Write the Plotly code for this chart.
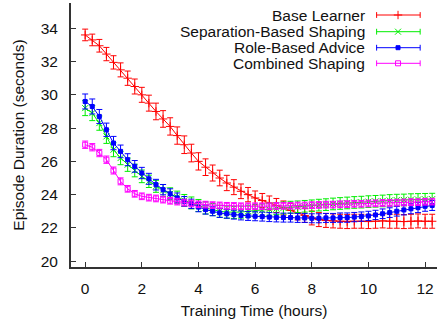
import numpy as np
import plotly.graph_objects as go

# ---- data ----
time_step = 0.25
hours = list(np.round(np.arange(0, 12.26, time_step), 2))  # 0 .. 12.25 (50 points)

base_learner = [33.6, 33.3, 32.95, 32.45, 31.95, 31.5, 31.0, 30.5, 30.0, 29.5,
                29.0, 28.55, 28.1, 27.55, 27.0, 26.5, 26.0, 25.65, 25.3, 25.0,
                24.7, 24.45, 24.2, 24.0, 23.8, 23.65, 23.5, 23.35, 23.2, 23.05,
                22.9, 22.75, 22.6, 22.5, 22.45, 22.42, 22.4, 22.38, 22.4, 22.4,
                22.38, 22.4, 22.42, 22.4, 22.4, 22.38, 22.4, 22.42, 22.4, 22.4]
base_err = [0.35, 0.35, 0.38, 0.4, 0.4, 0.42, 0.43, 0.45, 0.45, 0.48,
            0.5, 0.5, 0.52, 0.52, 0.53, 0.53, 0.52, 0.5, 0.48, 0.47,
            0.46, 0.45, 0.44, 0.43, 0.42, 0.42, 0.42, 0.42, 0.42, 0.42,
            0.42, 0.42, 0.42, 0.42, 0.42, 0.42, 0.42, 0.42, 0.42, 0.42,
            0.42, 0.42, 0.42, 0.42, 0.42, 0.42, 0.42, 0.42, 0.42, 0.42]

separation = [29.2, 28.9, 28.3, 27.5, 26.7, 26.2, 25.8, 25.45, 25.1, 24.8,
              24.5, 24.25, 24.05, 23.85, 23.65, 23.5, 23.35, 23.2, 23.1, 23.0,
              22.95, 22.93, 22.95, 23.0, 23.05, 23.08, 23.12, 23.16, 23.2, 23.24,
              23.27, 23.3, 23.33, 23.37, 23.4, 23.44, 23.47, 23.5, 23.53, 23.55,
              23.58, 23.6, 23.62, 23.65, 23.67, 23.68, 23.7, 23.71, 23.72, 23.73]
separation_err = [0.45, 0.45, 0.43, 0.42, 0.42, 0.4, 0.4, 0.38, 0.38, 0.37,
                  0.36, 0.36, 0.36, 0.36, 0.36, 0.36, 0.36, 0.36, 0.36, 0.36,
                  0.36, 0.36, 0.36, 0.36, 0.36, 0.36, 0.36, 0.36, 0.36, 0.36,
                  0.35, 0.35, 0.35, 0.35, 0.35, 0.35, 0.35, 0.35, 0.35, 0.35,
                  0.35, 0.35, 0.35, 0.35, 0.35, 0.35, 0.35, 0.35, 0.35, 0.35]

role_based = [29.6, 29.3, 28.7, 27.9, 27.1, 26.6, 26.1, 25.7, 25.3, 24.95,
              24.6, 24.3, 24.05, 23.8, 23.6, 23.45, 23.25, 23.1, 23.0, 22.9,
              22.85, 22.8, 22.75, 22.72, 22.7, 22.68, 22.65, 22.63, 22.62, 22.62,
              22.6, 22.6, 22.58, 22.58, 22.6, 22.6, 22.62, 22.62, 22.65, 22.68,
              22.72, 22.78, 22.85, 22.92, 23.0, 23.08, 23.15, 23.22, 23.3, 23.35]
role_err = [0.45, 0.45, 0.42, 0.4, 0.4, 0.38, 0.36, 0.35, 0.34, 0.33,
            0.32, 0.31, 0.3, 0.3, 0.29, 0.28, 0.28, 0.27, 0.27, 0.27,
            0.27, 0.27, 0.27, 0.27, 0.27, 0.27, 0.27, 0.27, 0.27, 0.27,
            0.27, 0.27, 0.27, 0.27, 0.27, 0.27, 0.28, 0.28, 0.28, 0.28,
            0.28, 0.28, 0.29, 0.29, 0.29, 0.3, 0.3, 0.3, 0.3, 0.3]

combined = [27.0, 26.85, 26.5, 26.1, 25.45, 24.8, 24.35, 24.05, 23.9, 23.82,
            23.77, 23.7, 23.63, 23.58, 23.52, 23.47, 23.42, 23.4, 23.37, 23.35,
            23.33, 23.32, 23.3, 23.3, 23.3, 23.3, 23.3, 23.32, 23.33, 23.33,
            23.35, 23.35, 23.37, 23.38, 23.4, 23.4, 23.42, 23.43, 23.45, 23.45,
            23.47, 23.48, 23.5, 23.5, 23.52, 23.53, 23.55, 23.55, 23.57, 23.58]
combined_err = [0.22, 0.22, 0.22, 0.22, 0.21, 0.21, 0.2, 0.2, 0.2, 0.2,
                0.2, 0.2, 0.2, 0.2, 0.2, 0.2, 0.2, 0.2, 0.2, 0.2,
                0.2, 0.2, 0.2, 0.2, 0.2, 0.2, 0.2, 0.2, 0.2, 0.2,
                0.2, 0.2, 0.2, 0.2, 0.2, 0.2, 0.2, 0.2, 0.2, 0.2,
                0.2, 0.2, 0.2, 0.2, 0.2, 0.2, 0.2, 0.2, 0.2, 0.2]

series_names = ["Base Learner", "Separation-Based Shaping", "Role-Based Advice", "Combined Shaping"]
series_values = [base_learner, separation, role_based, combined]
series_errors = [base_err, separation_err, role_err, combined_err]
colors = ["#ff0000", "#00ee00", "#0000ff", "#ff00ff"]
symbols = ["cross-thin", "x-thin", "square", "square-open"]
sizes = [6, 6, 4, 5]

x_ticks = [0, 2, 4, 6, 8, 10, 12]
y_ticks = [20, 22, 24, 26, 28, 30, 32, 34]

FONT = "Liberation Sans, Arial, Helvetica, sans-serif"

fig = go.Figure()
for name, vals, errs, col, sym, sz in zip(series_names, series_values, series_errors, colors, symbols, sizes):
    fig.add_trace(go.Scatter(
        x=hours, y=vals, name=name, mode="lines+markers",
        line=dict(color=col, width=1),
        marker=dict(symbol=sym, size=sz, color=col, line=dict(color=col, width=1)),
        error_y=dict(type="data", array=errs, visible=True, color=col, thickness=1, width=3),
        showlegend=False,
    ))

# ---- manual gnuplot-style key (text right, sample on the right) ----
key_rows = [0.9545, 0.8913, 0.8307, 0.7716]
key_text_x = 0.809
key_x0, key_x1, key_xm = 0.835, 0.954, 0.8935
shapes = []
annotations = []
for i, (name, col, sym, sz) in enumerate(zip(series_names, colors, symbols, sizes)):
    yy = key_rows[i]
    annotations.append(dict(x=key_text_x, y=yy, xref="paper", yref="paper", text=name,
                            showarrow=False, xanchor="right", yanchor="middle",
                            font=dict(family=FONT, size=15.5, color="#111")))
    shapes.append(dict(type="line", xref="paper", yref="paper", x0=key_x0, x1=key_x1, y0=yy, y1=yy,
                       line=dict(color=col, width=1)))
    for xe in (key_x0, key_x1):
        shapes.append(dict(type="line", xref="paper", yref="paper", x0=xe, x1=xe,
                           y0=yy - 0.011, y1=yy + 0.011, line=dict(color=col, width=1)))
    fig.add_trace(go.Scatter(x=[key_xm], y=[yy], xaxis="x2", yaxis="y2", mode="markers",
                             marker=dict(symbol=sym, size=sz, color=col, line=dict(color=col, width=1)),
                             showlegend=False, hoverinfo="skip"))

fig.update_layout(
    width=437, height=322,
    margin=dict(l=71, r=0, t=3, b=55, autoexpand=False),
    paper_bgcolor="white", plot_bgcolor="white",
    font=dict(family=FONT, size=15.5, color="#111"),
    shapes=shapes, annotations=annotations,
    xaxis=dict(range=[-0.5, 12.42], tickvals=x_ticks, ticks="inside", ticklen=5, tickwidth=1,
               tickcolor="#333", showline=True, linecolor="#333", linewidth=2, showgrid=False,
               zeroline=False, ticklabelstandoff=6, automargin=False,
               title=dict(text="Training Time (hours)", font=dict(size=15.5), standoff=10)),
    yaxis=dict(range=[19.65, 35.52], tickvals=y_ticks, ticks="inside", ticklen=5, tickwidth=1,
               tickcolor="#333", showline=True, linecolor="#333", linewidth=2, showgrid=False,
               zeroline=False, ticklabelstandoff=8, automargin=False,
               title=dict(text="Episode Duration (seconds)", font=dict(size=15.5), standoff=12)),
    xaxis2=dict(overlaying="x", range=[0, 1], visible=False, fixedrange=True),
    yaxis2=dict(overlaying="y", range=[0, 1], visible=False, fixedrange=True),
)

fig.write_html("out.html", config={"displayModeBar": False},
               post_script="document.body.style.margin='0px';document.body.style.overflow='hidden';")
